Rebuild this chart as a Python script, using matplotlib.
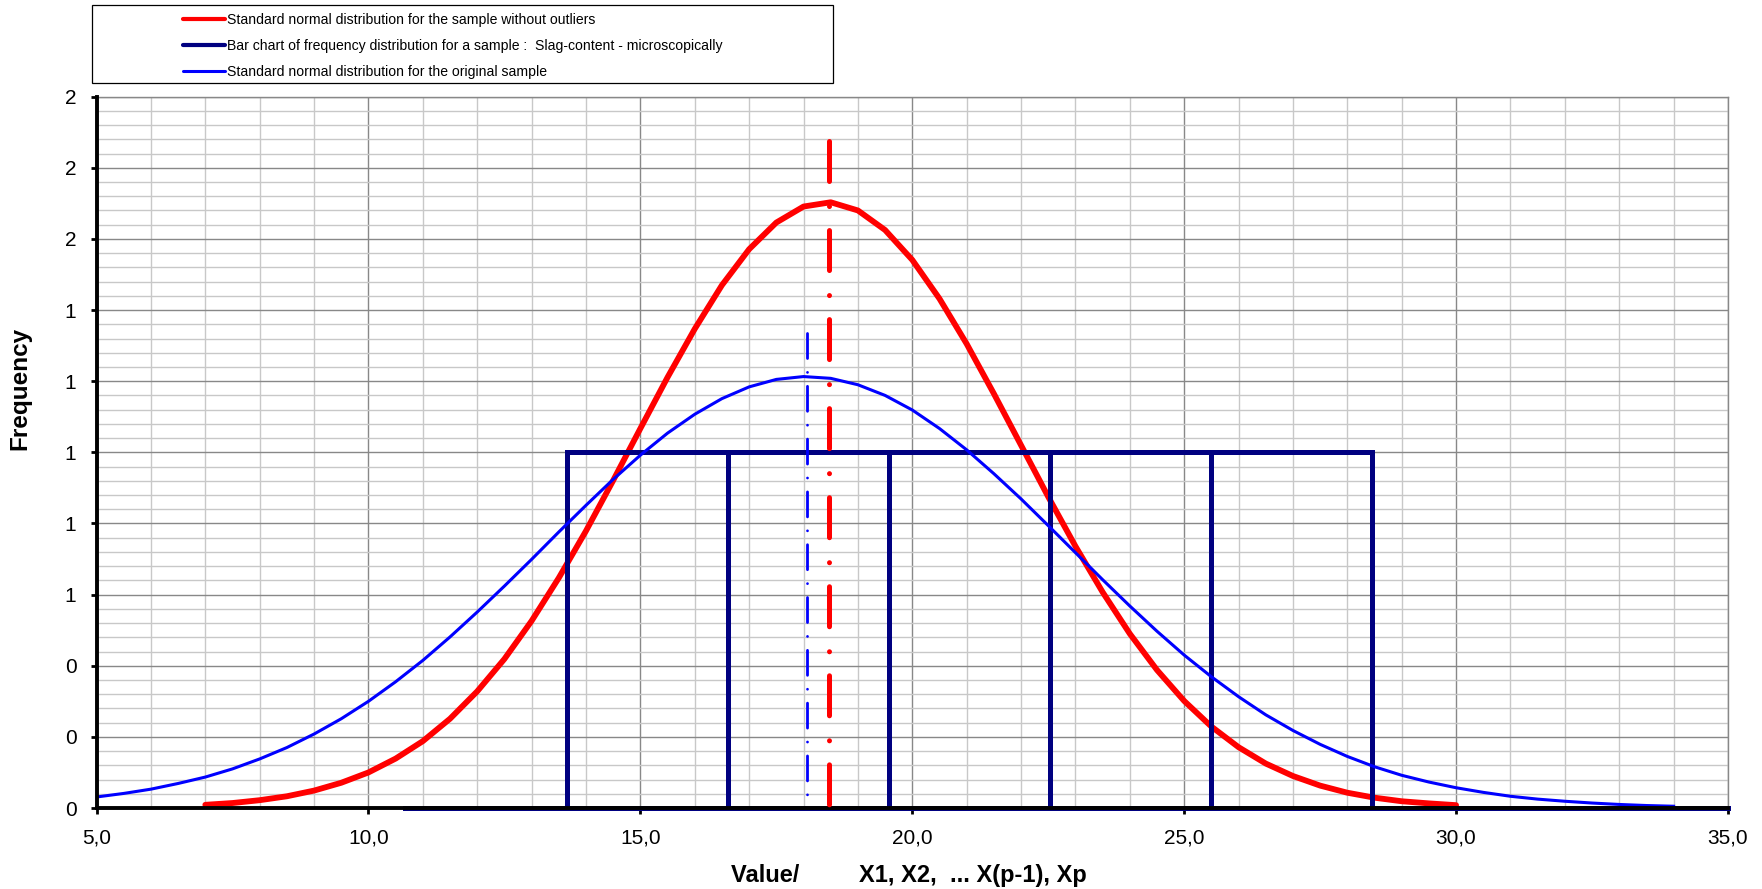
import matplotlib
matplotlib.use("Agg")
import matplotlib.pyplot as plt
from matplotlib.lines import Line2D
from matplotlib.patches import Rectangle
from matplotlib.ticker import MultipleLocator, FuncFormatter

plt.rcParams['font.family'] = ['Liberation Sans', 'DejaVu Sans']

# standard normal curve for the sample without outliers
red_x = [7.0, 7.5, 8.0, 8.5, 9.0, 9.5, 10.0, 10.5, 11.0, 11.5, 12.0, 12.5, 13.0, 13.5, 14.0, 14.5,
         15.0, 15.5, 16.0, 16.5, 17.0, 17.5, 18.0, 18.5, 19.0, 19.5, 20.0, 20.5, 21.0, 21.5, 22.0,
         22.5, 23.0, 23.5, 24.0, 24.5, 25.0, 25.5, 26.0, 26.5, 27.0, 27.5, 28.0, 28.5, 29.0, 29.5, 30.0]
red_y = [0.009, 0.014, 0.022, 0.033, 0.049, 0.071, 0.100, 0.139, 0.188, 0.251, 0.328, 0.419, 0.526,
         0.647, 0.779, 0.921, 1.067, 1.211, 1.347, 1.470, 1.571, 1.646, 1.691, 1.703, 1.680, 1.625,
         1.541, 1.432, 1.305, 1.165, 1.020, 0.875, 0.736, 0.607, 0.490, 0.388, 0.301, 0.229, 0.171,
         0.125, 0.090, 0.063, 0.043, 0.029, 0.019, 0.013, 0.008]

# standard normal curve for the original sample
blue_x = [5.0, 5.5, 6.0, 6.5, 7.0, 7.5, 8.0, 8.5, 9.0, 9.5, 10.0, 10.5, 11.0, 11.5, 12.0, 12.5,
          13.0, 13.5, 14.0, 14.5, 15.0, 15.5, 16.0, 16.5, 17.0, 17.5, 18.0, 18.5, 19.0, 19.5, 20.0,
          20.5, 21.0, 21.5, 22.0, 22.5, 23.0, 23.5, 24.0, 24.5, 25.0, 25.5, 26.0, 26.5, 27.0, 27.5,
          28.0, 28.5, 29.0, 29.5, 30.0, 30.5, 31.0, 31.5, 32.0, 32.5, 33.0, 33.5, 34.0]
blue_y = [0.031, 0.041, 0.053, 0.069, 0.087, 0.110, 0.138, 0.170, 0.208, 0.251, 0.300, 0.355, 0.415,
          0.481, 0.551, 0.624, 0.699, 0.776, 0.851, 0.924, 0.992, 1.054, 1.107, 1.151, 1.184, 1.205,
          1.213, 1.208, 1.190, 1.160, 1.119, 1.067, 1.007, 0.940, 0.869, 0.794, 0.718, 0.642, 0.568,
          0.497, 0.430, 0.369, 0.313, 0.262, 0.218, 0.179, 0.145, 0.116, 0.092, 0.073, 0.057, 0.044,
          0.033, 0.025, 0.019, 0.014, 0.010, 0.007, 0.005]

# bar chart of frequency distribution
bin_left = [13.66, 16.62, 19.58, 22.54, 25.50]
bin_width = 2.96
bin_freq = [1, 1, 1, 1, 1]
base_x = [10.67, 35.0]
base_y = [0, 0]

# mean lines
red_mean = 18.47
red_mean_top = 1.875
blue_mean = 18.06
blue_mean_top = 1.335

labels = ['Standard normal distribution for the sample without outliers',
          'Bar chart of frequency distribution for a sample :  Slag-content - microscopically',
          'Standard normal distribution for the original sample']

RED = '#FF0000'
NAVY = '#000080'
BLUE = '#0000FF'

fig = plt.figure(figsize=(17.62, 8.89), dpi=100)
ax = fig.add_axes([0.0548, 0.0911, 0.9259, 0.8002])

ax.set_xlim(5, 35)
ax.set_ylim(0, 2)
ax.xaxis.set_major_locator(MultipleLocator(5))
ax.xaxis.set_minor_locator(MultipleLocator(1))
ax.yaxis.set_major_locator(MultipleLocator(0.2))
ax.yaxis.set_minor_locator(MultipleLocator(0.04))
ax.xaxis.set_major_formatter(FuncFormatter(lambda v, p: f"{v:.1f}".replace('.', ',')))
ax.yaxis.set_major_formatter(FuncFormatter(lambda v, p: f"{v:.0f}"))

ax.grid(True, which='minor', color='#c8c8c8', lw=1.0, zorder=0)
ax.grid(True, which='major', color='#888888', lw=1.0, zorder=0)
ax.set_axisbelow(True)

ax.tick_params(which='major', direction='out', length=4.5, width=2, labelsize=15, pad=10)
ax.tick_params(which='minor', length=0)

for s in ['left', 'bottom']:
    ax.spines[s].set_color('black')
    ax.spines[s].set_linewidth(2.8)
    ax.spines[s].set_zorder(5)
for s in ['top', 'right']:
    ax.spines[s].set_color('#888888')
    ax.spines[s].set_linewidth(1.0)

ax.plot(red_x, red_y, color=RED, lw=4.2, solid_capstyle='round', zorder=3)
ax.bar(bin_left, bin_freq, width=bin_width, align='edge', fill=False,
       edgecolor=NAVY, lw=3.6, zorder=3)
ax.plot(base_x, base_y, color=NAVY, lw=3.6, zorder=3, clip_on=False)
ax.plot(blue_x, blue_y, color=BLUE, lw=2.2, zorder=4)

# drawn top-down so the dash pattern starts at the top like the original
ax.plot([red_mean, red_mean], [red_mean_top, 0], color=RED, lw=3.6,
        linestyle=(0, (8.0, 5.0, 0.01, 4.8)), dash_capstyle='round', zorder=6)
ax.plot([blue_mean, blue_mean], [blue_mean_top, 0], color=BLUE, lw=2.0,
        linestyle=(0, (9, 5, 0.01, 5)), dash_capstyle='round', zorder=6)

ax.set_xlabel('Value/         X1, X2,  ... X(p-1), Xp', fontsize=17, fontweight='bold')
ax.xaxis.set_label_coords(0.498, -0.079)
ax.set_ylabel('Frequency', fontsize=17.5, fontweight='bold')
ax.yaxis.set_label_coords(-0.040, 0.59)

# legend box above the plot
fig.patches.append(Rectangle((0.0522, 0.907), 0.4206, 0.0877, transform=fig.transFigure,
                             fill=False, edgecolor='black', lw=0.9))
handles = [Line2D([], [], color=RED, lw=3.0, solid_capstyle='round'),
           Line2D([], [], color=NAVY, lw=3.0, solid_capstyle='round'),
           Line2D([], [], color=BLUE, lw=2.2, solid_capstyle='round')]
fig.legend(handles, labels, loc='upper left', bbox_to_anchor=(0.104, 0.985),
           frameon=False, fontsize=10.1, handlelength=2.95, handletextpad=0.2,
           labelspacing=0.85, borderpad=0, borderaxespad=0)

fig.savefig('out.png', dpi=100)
